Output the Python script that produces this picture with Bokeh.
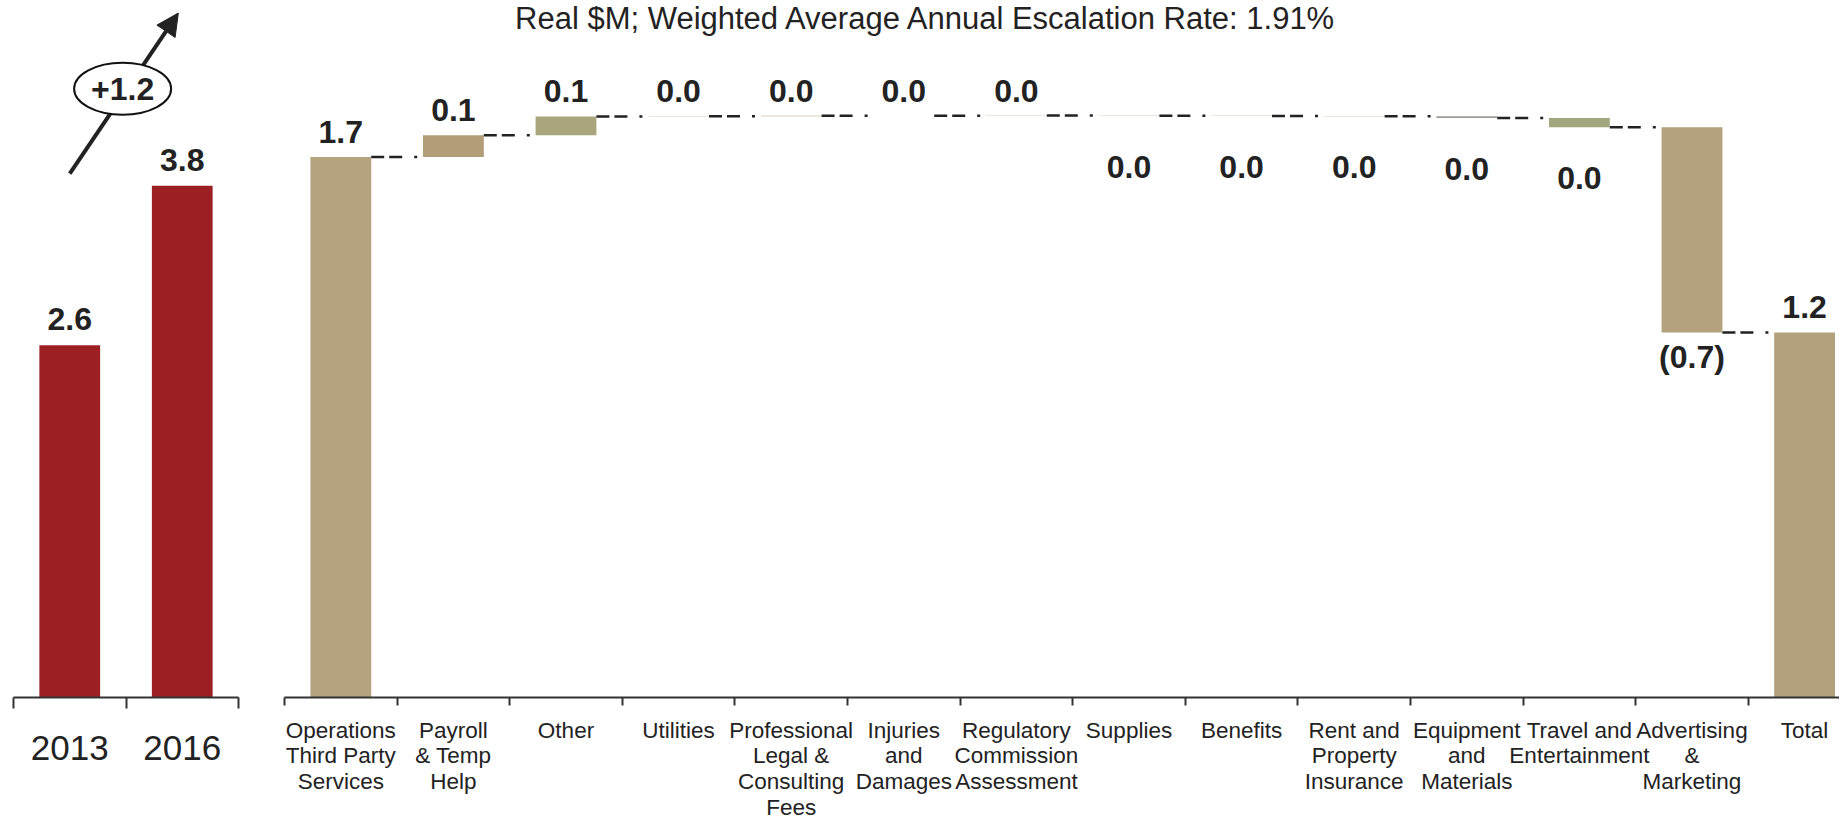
import numpy as np
from bokeh.plotting import figure
from bokeh.models import FixedTicker, Arrow, NormalHead, Label
from bokeh.layouts import row
from bokeh.embed import file_html
from bokeh.resources import INLINE
from bokeh.core.properties import value

# ---------------- data ----------------
years = ["2013", "2016"]
year_totals = [2.61, 3.79]

categories = [
    "Operations\nThird Party\nServices",
    "Payroll\n& Temp\nHelp",
    "Other",
    "Utilities",
    "Professional\nLegal &\nConsulting\nFees",
    "Injuries\nand\nDamages",
    "Regulatory\nCommission\nAssessment",
    "Supplies",
    "Benefits",
    "Rent and\nProperty\nInsurance",
    "Equipment\nand\nMaterials",
    "Travel and\nEntertainment",
    "Advertising\n&\nMarketing",
    "Total",
]
changes = [1.74, 0.07, 0.06, 0.001, 0.001, 0.0005, 0.0005,
           -0.0005, -0.001, -0.0005, -0.006, -0.03, -0.66]
subtitle = "Real $M; Weighted Average Annual Escalation Rate: 1.91%"

# ---------------- style ----------------
FONT = "Liberation Sans"
RED = "#9C1F24"
bar_colors = ["#B5A27E", "#B39C78", "#A9A67E", "#B0A680", "#B0A680", "#B0A680",
              "#B0A680", "#B0A680", "#B0A680", "#B0A680", "#9E9E90", "#A2A67C",
              "#B4A17E", "#B3A17E"]
INK = "#222222"
FRAME_H = 697


def fmt(v):
    r = round(v, 1)
    if r < 0:
        return f"({abs(r):.1f})"
    return f"{abs(r):.1f}"


# ---------------- left panel ----------------
left = figure(frame_width=225, frame_height=FRAME_H, x_range=(0, 2),
              y_range=(0, FRAME_H / 135.0),
              output_backend="svg", toolbar_location=None, y_axis_location=None,
              min_border_left=13, min_border_right=8, min_border_top=0,
              min_border_bottom=114)
left.outline_line_color = None
left.grid.visible = False

lx = np.arange(len(years)) + 0.5
left.vbar(x=lx, top=year_totals, bottom=0, width=0.54, fill_color=RED, line_color=None)
left.text(x=lx, y=year_totals, text=[fmt(v) for v in year_totals], y_offset=-26,
          text_align="center", text_baseline="middle", text_font=value(FONT),
          text_font_style="bold", text_font_size="32px", text_color=INK)

lax = left.xaxis[0]
lax.ticker = FixedTicker(ticks=list(lx), minor_ticks=list(range(len(years) + 1)))
lax.major_label_overrides = {float(x): y for x, y in zip(lx, years)}
lax.major_tick_line_color = None
lax.major_tick_in = 0
lax.major_tick_out = 0
lax.minor_tick_in = 0
lax.minor_tick_out = 11
lax.minor_tick_line_color = "#333333"
lax.minor_tick_line_width = 2
lax.axis_line_color = "#333333"
lax.axis_line_width = 2
lax.major_label_standoff = 27
lax.major_label_text_font = FONT
lax.major_label_text_font_size = "35px"
lax.major_label_text_color = INK

diff = year_totals[1] - year_totals[0]
left.add_layout(Arrow(end=NormalHead(size=22, fill_color=INK, line_color=INK),
                      x_start=0.5, y_start=3.88, x_end=1.465, y_end=5.07,
                      line_width=4, line_color=INK))
left.ellipse(x=[0.97], y=[4.51], width=[97], height=[52], width_units="screen",
             height_units="screen", fill_color="white", line_color="#111111",
             line_width=2, level="overlay")
left.text(x=[0.97], y=[4.51], text=[f"+{diff:.1f}"], text_align="center",
          text_baseline="middle", text_font=value(FONT), text_font_style="bold",
          text_font_size="32px", text_color=INK, level="overlay")

# ---------------- right panel (waterfall) ----------------
n = len(categories)
cum_end = np.cumsum(changes)
starts = np.concatenate([[0.0], cum_end[:-1]])
total = float(cum_end[-1])
vals = list(changes) + [total]
bottoms = list(np.minimum(starts, cum_end)) + [0.0]
tops = list(np.maximum(starts, cum_end)) + [total]
xs = np.arange(n) + 0.5
W = 0.54
YS = 310.7  # px per unit

right = figure(frame_width=1555, frame_height=FRAME_H, x_range=(0, 1555 / 112.6),
               y_range=(0, FRAME_H / YS),
               output_backend="svg", toolbar_location=None, y_axis_location=None,
               min_border_left=38, min_border_right=0, min_border_top=0,
               min_border_bottom=114)
right.outline_line_color = None
right.grid.visible = False

right.vbar(x=xs, bottom=bottoms, top=tops, width=W, fill_color=bar_colors,
           line_color=None)

# connectors
levels = list(cum_end)
right.segment(x0=xs[:-1] + W / 2, x1=xs[1:] - W / 2, y0=levels, y1=levels,
              line_color=INK, line_width=2.5, line_dash="13 5 13 12 3 30")

# value labels
pos_x, pos_y, pos_t = [], [], []
neg_x, neg_y, neg_t, neg_off = [], [], [], []
for i, v in enumerate(vals):
    if v >= 0:
        pos_x.append(xs[i]); pos_y.append(tops[i]); pos_t.append(fmt(v))
    else:
        neg_x.append(xs[i]); neg_y.append(bottoms[i]); neg_t.append(fmt(v))
        neg_off.append(51 if abs(v) < 0.05 else 25)

right.text(x=pos_x, y=pos_y, text=pos_t, y_offset=-25, text_align="center",
           text_baseline="middle", text_font=value(FONT), text_font_style="bold",
           text_font_size="32px", text_color=INK)
right.text(x=neg_x, y=neg_y, text=neg_t, y_offset=neg_off, text_align="center",
           text_baseline="middle", text_font=value(FONT), text_font_style="bold",
           text_font_size="32px", text_color=INK)

rax = right.xaxis[0]
rax.ticker = FixedTicker(ticks=list(xs), minor_ticks=list(range(n)))
rax.major_label_overrides = {float(x): c for x, c in zip(xs, categories)}
rax.major_tick_line_color = None
rax.major_tick_in = 0
rax.major_tick_out = 0
rax.minor_tick_in = 0
rax.minor_tick_out = 8
rax.minor_tick_line_color = "#333333"
rax.minor_tick_line_width = 2
rax.axis_line_color = "#333333"
rax.axis_line_width = 2
rax.major_label_standoff = 12
rax.major_label_text_font = FONT
rax.major_label_text_font_size = "22.5px"
rax.major_label_text_line_height = 1.03
rax.major_label_text_color = INK

right.add_layout(Label(x=5.7, y=(FRAME_H - 18) / YS, text=subtitle, text_align="center",
                       text_baseline="middle", text_font=FONT,
                       text_font_size="31px", text_color=INK))

layout = row(left, right, spacing=0)
open("out.html", "w").write(file_html(layout, INLINE))
